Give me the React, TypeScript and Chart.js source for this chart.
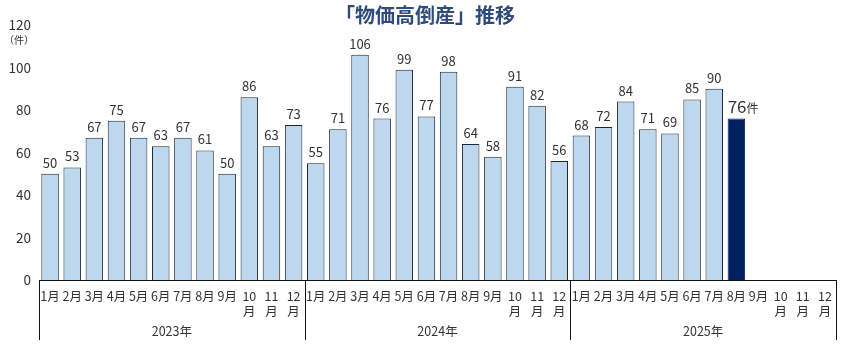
import React, { useEffect, useRef } from "react";
import { Chart, registerables } from "chart.js";

Chart.register(...registerables);

const years = ["2023年", "2024年", "2025年"];
const months = ["1月", "2月", "3月", "4月", "5月", "6月", "7月", "8月", "9月", ["10", "月"], ["11", "月"], ["12", "月"]];
const values2023 = [50, 53, 67, 75, 67, 63, 67, 61, 50, 86, 63, 73];
const values2024 = [55, 71, 106, 76, 99, 77, 98, 64, 58, 91, 82, 56];
const values2025 = [68, 72, 84, 71, 69, 85, 90, 76, null, null, null, null];
const yTicks = [0, 20, 40, 60, 80, 100, 120];
const highlightIndex = 31;
const title = "「物価高倒産」推移";
const unit = "件";
const unitLabel = "（件）";

const FONT = "'Noto Sans CJK JP', 'Noto Sans', sans-serif";

export default function App() {
  const ref = useRef<HTMLCanvasElement | null>(null);

  useEffect(() => {
    document.body.style.margin = "0";
    const canvas = ref.current!;
    const labels: any[] = [];
    years.forEach(() => months.forEach((m) => labels.push(m)));
    const data = [...values2023, ...values2024, ...values2025];

    const overlay = {
      id: "overlay",
      afterDraw(chart: any) {
        const ctx = chart.ctx;
        const area = chart.chartArea;
        ctx.save();
        // title
        ctx.fillStyle = "#2e4b7b";
        ctx.font = `bold 20px ${FONT}`;
        ctx.textAlign = "center";
        ctx.textBaseline = "middle";
        ctx.fillText(title, 425, 15);
        // unit
        ctx.fillStyle = "#333";
        ctx.font = `10px ${FONT}`;
        ctx.textAlign = "center";
        ctx.fillText(unitLabel, 19, 40);
        // year boxes
        const step = (area.right - area.left) / labels.length;
        ctx.strokeStyle = "#111";
        ctx.lineWidth = 1;
        for (let i = 0; i <= years.length; i++) {
          const x = Math.round(area.left + i * 12 * step) + 0.5;
          ctx.beginPath();
          ctx.moveTo(x, area.bottom);
          ctx.lineTo(x, 340);
          ctx.stroke();
        }
        ctx.fillStyle = "#333";
        ctx.font = `12.5px ${FONT}`;
        ctx.textAlign = "center";
        years.forEach((y, i) => {
          const cx = area.left + (i * 12 + 6) * step;
          ctx.fillText(y, cx, 331);
        });
        // value labels
        const meta = chart.getDatasetMeta(0);
        meta.data.forEach((bar: any, i: number) => {
          const v = data[i];
          if (v == null) return;
          ctx.textBaseline = "alphabetic";
          if (i === highlightIndex) {
            const left = bar.x - bar.width / 2;
            ctx.font = `17px ${FONT}`;
            ctx.textAlign = "left";
            const s = String(v);
            ctx.fillText(s, left, bar.y - 6);
            const w = ctx.measureText(s).width;
            ctx.font = `12px ${FONT}`;
            ctx.fillText(unit, left + w, bar.y - 6);
          } else {
            ctx.font = `13px ${FONT}`;
            ctx.textAlign = "center";
            ctx.fillText(String(v), bar.x, bar.y - 6);
          }
        });
        ctx.restore();
      },
    };

    const chart = new Chart(canvas, {
      type: "bar",
      data: {
        labels,
        datasets: [
          {
            data,
            backgroundColor: data.map((_, i) => (i === highlightIndex ? "#002060" : "#bdd7ee")),
            borderColor: data.map((_, i) => (i === highlightIndex ? "#002060" : "#1a2938")),
            borderWidth: 1,
            categoryPercentage: 1,
            barPercentage: 0.79,
          },
        ],
      },
      options: {
        animation: false,
        responsive: false,
        devicePixelRatio: 1,
        layout: { padding: { left: 0, right: 13, top: 25, bottom: 0 } },
        plugins: { legend: { display: false }, title: { display: false }, tooltip: { enabled: false } },
        scales: {
          x: {
            grid: { display: false, drawTicks: false },
            border: { display: true, color: "#111", width: 1 },
            ticks: {
              autoSkip: false,
              maxRotation: 0,
              minRotation: 0,
              padding: 9,
              color: "#333",
              font: { family: FONT, size: 12.5, lineHeight: 1.2 },
            },
            afterFit(scale: any) {
              scale.height = 75;
            },
          },
          y: {
            min: 0,
            max: 120,
            grid: { display: false, drawTicks: false },
            border: { display: false },
            afterBuildTicks(scale: any) {
              scale.ticks = yTicks.map((v) => ({ value: v }));
            },
            ticks: {
              padding: 8,
              color: "#333",
              font: { family: FONT, size: 13.5 },
            },
            afterFit(scale: any) {
              scale.width = 39;
            },
          },
        },
      },
      plugins: [overlay],
    });
    return () => chart.destroy();
  }, []);

  return (
    <div style={{ width: 849, height: 355 }}>
      <canvas ref={ref} width={849} height={355} style={{ display: "block" }} />
    </div>
  );
}
